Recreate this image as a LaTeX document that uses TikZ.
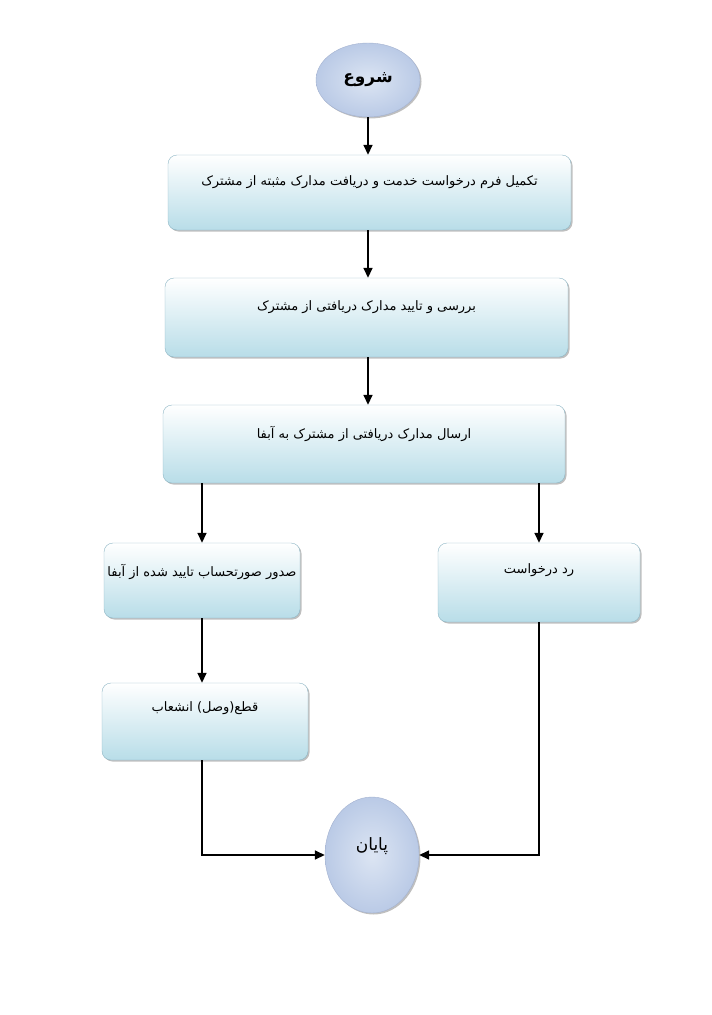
\documentclass[tikz,border=0pt]{standalone}
\usepackage{fontspec}
\newfontfamily\arabicfont[Script=Arabic]{DejaVu Sans}
\TeXXeTstate=1
\usetikzlibrary{arrows.meta,shapes.geometric,shadows}

\definecolor{boxblue}{HTML}{B8DDE8}
\definecolor{boxline}{HTML}{8DB5C4}
\definecolor{ovalblue}{HTML}{BACAE6}
\definecolor{ovallight}{HTML}{DCE5F3}
\definecolor{ovalline}{HTML}{A3B1CF}

\tikzset{
  stepbox/.style={rectangle, rounded corners=9pt, draw=boxline, thin,
    top color=white, bottom color=boxblue,
    drop shadow={shadow xshift=1.5pt, shadow yshift=-1.5pt, fill=black!50},
    font=\arabicfont\fontsize{13}{15}\selectfont, text depth=24pt},
  endpoint/.style={ellipse, draw=ovalline, thin,
    inner color=ovallight, outer color=ovalblue,
    drop shadow={shadow xshift=1.5pt, shadow yshift=-1.5pt, fill=black!50},
    font=\arabicfont\fontsize{17}{19}\selectfont},
  flow/.style={line width=1.6pt, -{Triangle[length=10pt,width=9pt]}}
}

\begin{document}
\begin{tikzpicture}[x=1pt, y=-1pt]
  \useasboundingbox (0,0) rectangle (712,1015);
  % start and end
  \node[endpoint, minimum width=104pt, minimum height=74pt] (start) at (368,80)
    {\bfseries\beginR شروع\endR};
  \node[endpoint, minimum width=94pt, minimum height=116pt, text depth=22pt] (finish) at (372,855)
    {\beginR پایان\endR};
  % main column
  \node[stepbox, minimum width=403pt, minimum height=75pt] (fill) at (369.5,192.5)
    {\beginR تکمیل فرم درخواست خدمت و دریافت مدارک مثبته از مشترک\endR};
  \node[stepbox, minimum width=403pt, minimum height=79pt] (check) at (366.5,317.5)
    {\beginR بررسی و تایید مدارک دریافتی از مشترک\endR};
  \node[stepbox, minimum width=402pt, minimum height=78pt] (send) at (364,444)
    {\beginR ارسال مدارک دریافتی از مشترک به آبفا\endR};
  % left branch
  \node[stepbox, minimum width=196pt, minimum height=75pt, text depth=20pt, inner sep=1pt] (bill) at (202,580.5)
    {\beginR صدور صورتحساب تایید شده از آبفا\endR};
  \node[stepbox, minimum width=206pt, minimum height=77pt, text depth=30pt] (cut) at (205,721.5)
    {\beginR قطع(وصل) انشعاب\endR};
  % right branch
  \node[stepbox, minimum width=202pt, minimum height=79pt, text depth=28pt] (reject) at (539,582.5)
    {\beginR رد درخواست\endR};
  % arrows
  \draw[flow] (start) -- (start |- fill.north);
  \draw[flow] (fill.south -| start) -- (start |- check.north);
  \draw[flow] (check.south -| start) -- (start |- send.north);
  \draw[flow] (send.south -| bill.north) -- (bill.north);
  \draw[flow] (send.south -| reject.north) -- (reject.north);
  \draw[flow] (bill.south) -- (bill.south |- cut.north);
  \draw[flow] (cut.south -| bill.south) |- (finish.west);
  \draw[flow] (reject.south) |- (finish.east);
\end{tikzpicture}
\end{document}
